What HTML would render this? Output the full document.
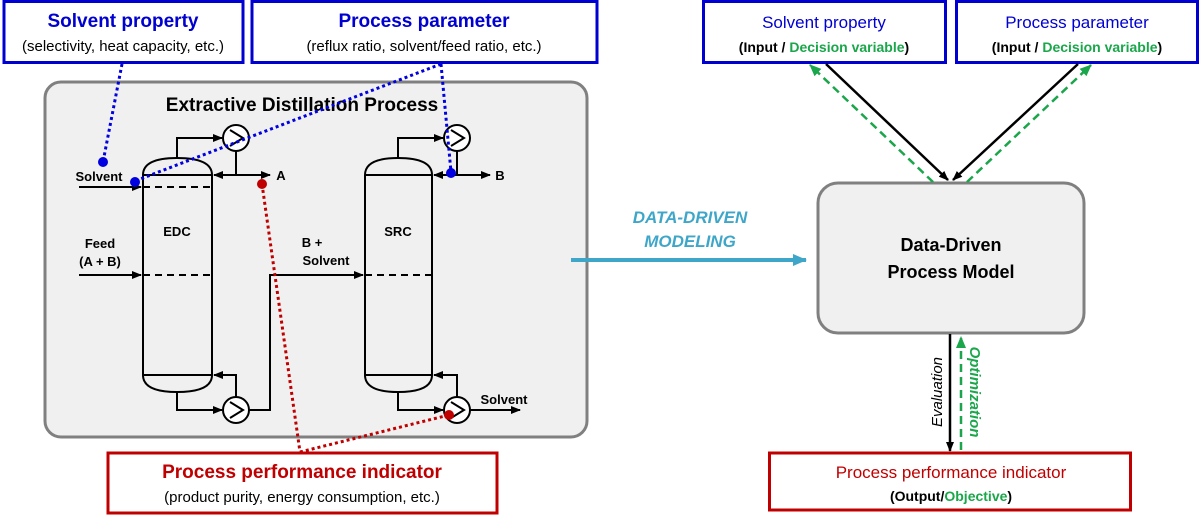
<!DOCTYPE html>
<html><head><meta charset="utf-8"><style>
html,body{margin:0;padding:0;background:#fff}
svg{display:block;font-family:"Liberation Sans",Arial,sans-serif}
</style></head><body>
<svg width="1200" height="518" viewBox="0 0 1200 518" xmlns="http://www.w3.org/2000/svg">
<defs>
<marker id="ak" markerWidth="10" markerHeight="8" refX="9" refY="4" orient="auto" markerUnits="userSpaceOnUse"><path d="M0,0 L10,4 L0,8 z" fill="#000"/></marker>
<marker id="ag" markerWidth="12" markerHeight="10" refX="11" refY="5" orient="auto" markerUnits="userSpaceOnUse"><path d="M0,0 L12,5 L0,10 z" fill="#1aa64a"/></marker>
<marker id="ab" markerWidth="14" markerHeight="12" refX="13" refY="6" orient="auto" markerUnits="userSpaceOnUse"><path d="M0,0 L14,6 L0,12 z" fill="#3ea6c8"/></marker>
</defs>

<!-- left process box -->
<rect x="45" y="82" width="542" height="355" rx="16" fill="#f0f0f0" stroke="#808080" stroke-width="3"/>
<text x="302" y="111" font-size="19" font-weight="bold" text-anchor="middle">Extractive Distillation Process</text>

<g stroke="#000" stroke-width="2" fill="none">
<!-- EDC -->
<path d="M143,175 Q143,158 177,158 Q212,158 212,175 L212,375 Q212,392 177,392 Q143,392 143,375 Z"/>
<line x1="143" y1="175" x2="212" y2="175"/><line x1="143" y1="375" x2="212" y2="375"/>
<line x1="143" y1="187" x2="212" y2="187" stroke-dasharray="7,5"/>
<line x1="143" y1="275" x2="212" y2="275" stroke-dasharray="7,5"/>
<!-- SRC -->
<path d="M365,175 Q365,158 398,158 Q432,158 432,175 L432,375 Q432,392 398,392 Q365,392 365,375 Z"/>
<line x1="365" y1="175" x2="432" y2="175"/><line x1="365" y1="375" x2="432" y2="375"/>
<line x1="365" y1="275" x2="432" y2="275" stroke-dasharray="7,5"/>
<!-- exchangers -->
<circle cx="236" cy="138" r="13" fill="#fff"/><circle cx="236" cy="410" r="13" fill="#fff"/>
<circle cx="457" cy="138" r="13" fill="#fff"/><circle cx="457" cy="410" r="13" fill="#fff"/>
<path d="M230,130 L243,138 L230,146 M230,402 L243,410 L230,418 M451,130 L464,138 L451,146 M451,402 L464,410 L451,418"/>
<!-- EDC piping -->
<path d="M177,158 V138 H222" marker-end="url(#ak)"/>
<path d="M236,151 V175"/>
<path d="M236,175 H214" marker-end="url(#ak)"/>
<path d="M236,175 H270" marker-end="url(#ak)"/>
<path d="M79,187 H141" marker-end="url(#ak)"/>
<path d="M79,275 H141" marker-end="url(#ak)"/>
<path d="M177,392 V410 H222" marker-end="url(#ak)"/>
<path d="M236,397 V375 H214" marker-end="url(#ak)"/>
<path d="M249,410 H270 V275 H363" marker-end="url(#ak)"/>
<!-- SRC piping -->
<path d="M398,158 V138 H443" marker-end="url(#ak)"/>
<path d="M457,151 V175"/>
<path d="M457,175 H434" marker-end="url(#ak)"/>
<path d="M457,175 H490" marker-end="url(#ak)"/>
<path d="M398,392 V410 H443" marker-end="url(#ak)"/>
<path d="M457,397 V375 H434" marker-end="url(#ak)"/>
<path d="M470,410 H520" marker-end="url(#ak)"/>
</g>
<g font-size="13" font-weight="bold" text-anchor="middle">
<text x="99" y="181">Solvent</text>
<text x="100" y="248">Feed</text><text x="100" y="266">(A + B)</text>
<text x="177" y="236">EDC</text><text x="398" y="236">SRC</text>
<text x="312" y="247">B +</text><text x="326" y="265">Solvent</text>
<text x="281" y="180">A</text><text x="500" y="180">B</text>
<text x="504" y="404">Solvent</text>
</g>

<!-- dotted connectors -->
<g stroke-width="3" stroke-dasharray="3,3" fill="none">
<line x1="122" y1="64" x2="103" y2="162" stroke="#0000e0"/>
<line x1="441" y1="64" x2="135" y2="181" stroke="#0000e0"/>
<line x1="441" y1="64" x2="451" y2="172" stroke="#0000e0"/>
<line x1="262" y1="184" x2="300" y2="452" stroke="#c00000"/>
<line x1="300" y1="452" x2="449" y2="415" stroke="#c00000"/>
</g>
<circle cx="103" cy="162" r="5" fill="#0000e0"/>
<circle cx="135" cy="182" r="5" fill="#0000e0"/>
<circle cx="451" cy="173" r="5" fill="#0000e0"/>
<circle cx="262" cy="184" r="5" fill="#c00000"/>
<circle cx="449" cy="415" r="5" fill="#c00000"/>

<!-- top-left boxes -->
<rect x="4" y="1.5" width="239" height="61" fill="#fff" stroke="#0000d0" stroke-width="3"/>
<text x="123" y="27" font-size="19" font-weight="bold" fill="#0000d0" text-anchor="middle">Solvent property</text>
<text x="123" y="51" font-size="15" text-anchor="middle">(selectivity, heat capacity, etc.)</text>
<rect x="252" y="1.5" width="345" height="61" fill="#fff" stroke="#0000d0" stroke-width="3"/>
<text x="424" y="27" font-size="19" font-weight="bold" fill="#0000d0" text-anchor="middle">Process parameter</text>
<text x="424" y="51" font-size="15" text-anchor="middle">(reflux ratio, solvent/feed ratio, etc.)</text>

<!-- bottom-left box -->
<rect x="108" y="453" width="389" height="60" fill="#fff" stroke="#c00000" stroke-width="3"/>
<text x="302" y="478" font-size="19" font-weight="bold" fill="#c00000" text-anchor="middle">Process performance indicator</text>
<text x="302" y="502" font-size="15" text-anchor="middle">(product purity, energy consumption, etc.)</text>

<!-- data-driven arrow -->
<line x1="571" y1="260" x2="806" y2="260" stroke="#3ea6c8" stroke-width="4" marker-end="url(#ab)"/>
<text x="690" y="223" font-size="17" font-weight="bold" font-style="italic" fill="#3ea6c8" text-anchor="middle">DATA-DRIVEN</text>
<text x="690" y="247" font-size="17" font-weight="bold" font-style="italic" fill="#3ea6c8" text-anchor="middle">MODELING</text>

<!-- model box -->
<rect x="818" y="183" width="266" height="150" rx="20" fill="#f0f0f0" stroke="#808080" stroke-width="3"/>
<text x="951" y="251" font-size="18" font-weight="bold" text-anchor="middle">Data-Driven</text>
<text x="951" y="278" font-size="18" font-weight="bold" text-anchor="middle">Process Model</text>

<!-- right top boxes -->
<rect x="703.5" y="1.5" width="242" height="61" fill="#fff" stroke="#0000d0" stroke-width="3"/>
<text x="824" y="28" font-size="17" fill="#0000d0" text-anchor="middle">Solvent property</text>
<text x="824" y="52" font-size="14" font-weight="bold" text-anchor="middle">(Input / <tspan fill="#1aa64a">Decision variable</tspan>)</text>
<rect x="956.5" y="1.5" width="241" height="61" fill="#fff" stroke="#0000d0" stroke-width="3"/>
<text x="1077" y="28" font-size="17" fill="#0000d0" text-anchor="middle">Process parameter</text>
<text x="1077" y="52" font-size="14" font-weight="bold" text-anchor="middle">(Input / <tspan fill="#1aa64a">Decision variable</tspan>)</text>

<!-- right arrows -->
<line x1="826" y1="64" x2="948" y2="180" stroke="#000" stroke-width="2.5" marker-end="url(#ak)"/>
<line x1="1078" y1="64" x2="953" y2="180" stroke="#000" stroke-width="2.5" marker-end="url(#ak)"/>
<line x1="933" y1="182" x2="810" y2="65" stroke="#1aa64a" stroke-width="2.5" stroke-dasharray="8,5" marker-end="url(#ag)"/>
<line x1="967" y1="182" x2="1091" y2="65" stroke="#1aa64a" stroke-width="2.5" stroke-dasharray="8,5" marker-end="url(#ag)"/>

<line x1="950" y1="334" x2="950" y2="451" stroke="#000" stroke-width="2.5" marker-end="url(#ak)"/>
<line x1="961" y1="450" x2="961" y2="337" stroke="#1aa64a" stroke-width="2.5" stroke-dasharray="8,5" marker-end="url(#ag)"/>
<text transform="translate(942,392) rotate(-90)" font-size="15" font-style="italic" text-anchor="middle">Evaluation</text>
<text transform="translate(970,392) rotate(90)" font-size="15" font-style="italic" font-weight="bold" fill="#1aa64a" text-anchor="middle">Optimization</text>

<!-- bottom right box -->
<rect x="769.5" y="453" width="361" height="57" fill="#fff" stroke="#c00000" stroke-width="3"/>
<text x="951" y="478" font-size="17" fill="#c00000" text-anchor="middle">Process performance indicator</text>
<text x="951" y="501" font-size="14" font-weight="bold" text-anchor="middle">(Output/<tspan fill="#1aa64a">Objective</tspan>)</text>
</svg>
</body></html>
